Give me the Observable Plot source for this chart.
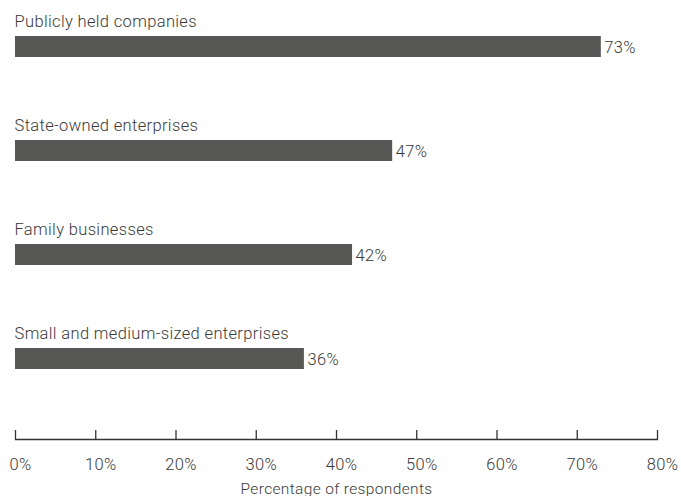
<!DOCTYPE html>
<html>
<head>
<meta charset="utf-8">
<script src="https://cdn.jsdelivr.net/npm/d3@7"></script>
<script src="https://cdn.jsdelivr.net/npm/@observablehq/plot@0.6"></script>
<style>
  html, body { margin: 0; padding: 0; background: #fff; }
  svg { display: block; }
  svg text { letter-spacing: 0.35px; }
</style>
</head>
<body>
<div id="chart"></div>
<script>
const categories = [
  "Publicly held companies",
  "State-owned enterprises",
  "Family businesses",
  "Small and medium-sized enterprises"
];
const values = [73, 47, 42, 36];
const tickValues = [0, 10, 20, 30, 40, 50, 60, 70, 80];
const axisLabel = "Percentage of respondents";

const data = categories.map((c, i) => ({category: c, value: values[i]}));

const font = "Roboto, 'DejaVu Sans', sans-serif";
const textColor = "#3a3a3a";
const fs = 16.5;

const chart = Plot.plot({
  width: 681,
  height: 496,
  marginLeft: 15,
  marginRight: 24,
  marginTop: 0,
  marginBottom: 57,
  style: {fontFamily: font, fontSize: "15.5px", color: textColor, background: "#fff"},
  x: {domain: [0, 80]},
  y: {domain: categories, range: [5, 421], padding: 0, axis: null},
  marks: [
    Plot.barX(data, {x: "value", y: "category", fill: "#575756", insetTop: 31, insetBottom: 52}),
    Plot.text(data, {x: () => 0, y: "category", text: "category", textAnchor: "start", dy: -36, dx: -1, fill: textColor, fontSize: fs, fontWeight: 300}),
    Plot.text(data, {x: "value", y: "category", text: d => d.value + "%", textAnchor: "start", dx: 3, dy: -10, fill: textColor, fontSize: fs, fontWeight: 300}),
    Plot.frame({anchor: "bottom", stroke: "#333", strokeWidth: 1.3}),
    Plot.axisX(tickValues, {tickSize: -9, text: null, stroke: "#333", strokeWidth: 1.3, label: null}),
    Plot.axisX(tickValues, {tickSize: 0, tickPadding: 19, tickFormat: d => d + "%", dx: 5, fill: textColor, fontSize: fs, fontWeight: 300,
      label: null}),
    Plot.axisX([], {tickSize: 0, text: null, label: axisLabel, labelAnchor: "center", labelOffset: 54, labelArrow: false, fontWeight: 300, fill: textColor})
  ]
});
document.getElementById("chart").appendChild(chart);
</script>
</body>
</html>
